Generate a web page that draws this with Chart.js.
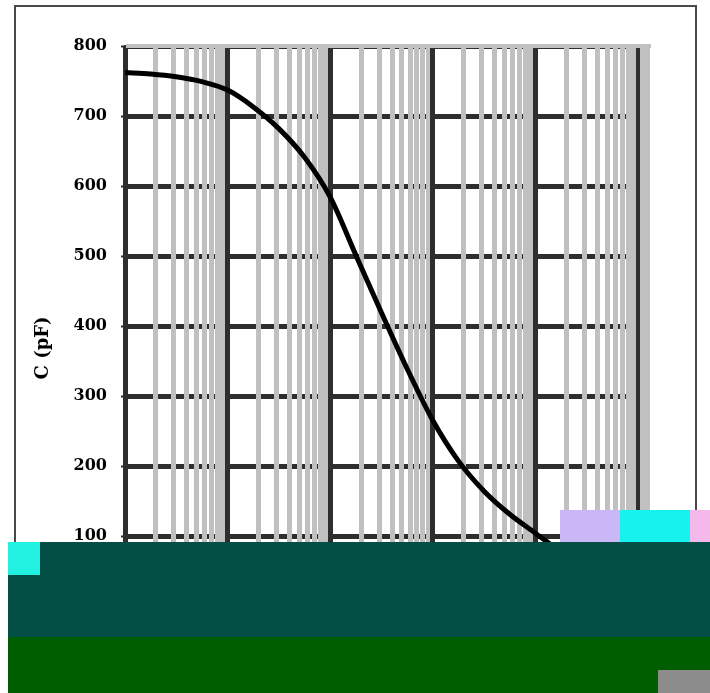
<!DOCTYPE html>
<html>
<head>
<meta charset="utf-8">
<script src="https://cdn.jsdelivr.net/npm/chart.js@4.4.1/dist/chart.umd.min.js"></script>
<style>
  html, body { margin: 0; padding: 0; background: #ffffff; }
  canvas { display: block; }
</style>
</head>
<body>
<canvas id="c" width="710" height="693"></canvas>
<script>
// Frequency (log axis) and capacitance values
const frequency = [1, 1.78, 3.16, 5.62, 10, 17.8, 31.6, 56.2, 100, 178, 316, 562, 1000, 1780, 3160, 5620, 10000, 17800, 31600, 56200, 100000];
const capacitance = [762, 760, 756, 749, 737, 713, 682, 641, 584, 501, 419, 339, 265, 207, 164, 131, 104, 77, 55, 37, 24];
const yTicks = [0, 100, 200, 300, 400, 500, 600, 700, 800];
const xDecades = [1, 10, 100, 1000, 10000, 100000];
const yTitle = 'C (pF)';

const xTickValues = [];
xDecades.forEach((d, i) => {
  if (i < xDecades.length - 1) {
    for (let m = 1; m <= 9; m++) xTickValues.push(d * m);
  } else {
    xTickValues.push(d);
  }
});

const isDecade = v => xDecades.some(d => Math.abs(d - v) < 1e-9 * d);

const framePlugin = {
  id: 'framePlugin',
  beforeDraw(chart) {
    const ctx = chart.ctx;
    ctx.save();
    ctx.fillStyle = '#ffffff';
    ctx.fillRect(0, 0, chart.width, chart.height);
    ctx.strokeStyle = '#4a4a4a';
    ctx.lineWidth = 2;
    ctx.strokeRect(15, 6, 681, 682);
    ctx.restore();
  },
  beforeDatasetsDraw(chart) {
    const ctx = chart.ctx;
    const a = chart.chartArea;
    ctx.save();
    ctx.fillStyle = '#c0c0c0';
    ctx.fillRect(a.left + 1, a.top - 2, a.right - a.left + 2, 4);
    ctx.fillRect(a.right - 8, a.top - 2, 10, a.bottom - a.top + 2);
    ctx.restore();
  },
  afterDraw(chart) {
    // damaged region of the reference picture
    const ctx = chart.ctx;
    ctx.save();
    ctx.fillStyle = '#c9b8f5';
    ctx.fillRect(560, 510, 60, 32);
    ctx.fillStyle = '#16f2ee';
    ctx.fillRect(620, 510, 70, 32);
    ctx.fillStyle = '#f4b8ea';
    ctx.fillRect(690, 510, 20, 32);
    ctx.fillStyle = '#034e45';
    ctx.fillRect(8, 542, 702, 95);
    ctx.fillStyle = '#22f0e0';
    ctx.fillRect(8, 542, 32, 33);
    ctx.fillStyle = '#005d00';
    ctx.fillRect(8, 637, 702, 56);
    ctx.fillStyle = '#8c8c8c';
    ctx.fillRect(658, 670, 52, 23);
    ctx.restore();
  }
};

new Chart(document.getElementById('c'), {
  type: 'line',
  data: {
    datasets: [{
      data: frequency.map((f, i) => ({ x: f, y: capacitance[i] })),
      borderColor: '#000000',
      borderWidth: 5,
      pointRadius: 0,
      fill: false,
      cubicInterpolationMode: 'monotone'
    }]
  },
  options: {
    responsive: false,
    animation: false,
    devicePixelRatio: 1,
    layout: { padding: { top: 46, right: 62, bottom: 27, left: 0 } },
    plugins: { legend: { display: false }, tooltip: { enabled: false } },
    scales: {
      y: {
        type: 'linear',
        min: 0,
        max: 800,
        afterFit(s) { s.width = 125; },
        afterBuildTicks(s) { s.ticks = yTicks.map(v => ({ value: v })); },
        grid: {
          z: -2,
          color: '#2e2e2e',
          lineWidth: 5,
          drawTicks: true,
          tickColor: '#2e2e2e',
          tickWidth: 2,
          tickLength: 4
        },
        border: { display: true, color: '#2e2e2e', width: 2 },
        ticks: {
          color: '#000000',
          padding: 14,
          font: { family: 'DejaVu Serif', size: 16, weight: 'bold' }
        },
        title: {
          display: true,
          text: yTitle + '       ',
          color: '#000000',
          font: { family: 'DejaVu Serif', size: 18, weight: 'bold' },
          padding: { top: 33, bottom: 0 }
        }
      },
      x: {
        type: 'logarithmic',
        min: 1,
        max: 125000,
        afterFit(s) { s.height = 60; },
        afterBuildTicks(s) { s.ticks = xTickValues.map(v => ({ value: v })); },
        grid: {
          z: -1,
          color: ctx => (ctx.tick && isDecade(ctx.tick.value)) ? '#2e2e2e' : '#c0c0c0',
          lineWidth: 5,
          drawTicks: false
        },
        border: { display: true, color: '#2e2e2e', width: 2 },
        ticks: {
          color: '#000000',
          autoSkip: false,
          maxRotation: 0,
          padding: 8,
          font: { family: 'DejaVu Serif', size: 16, weight: 'bold' },
          callback: v => isDecade(v) ? String(v) : ''
        }
      }
    }
  },
  plugins: [framePlugin]
});
</script>
</body>
</html>
